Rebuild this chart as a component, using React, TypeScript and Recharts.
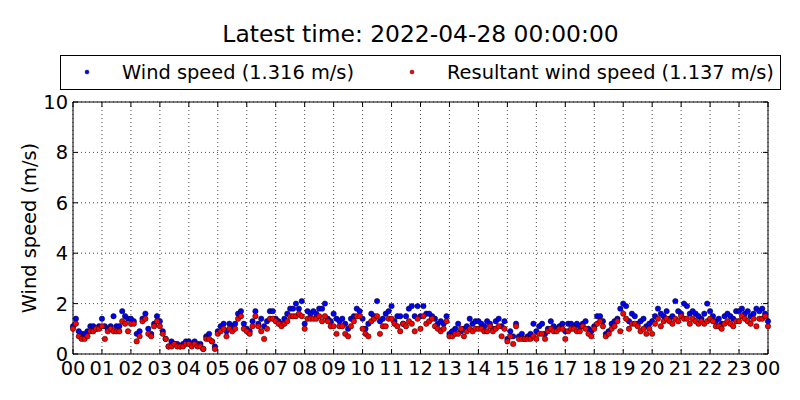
import { ScatterChart, Scatter, XAxis, YAxis, CartesianGrid, ReferenceArea } from "recharts";

// 6-minute samples, 00:00 .. 24:00
const STEP_MIN = 6;
const HOUR_TICKS = [0, 1, 2, 3, 4, 5, 6, 7, 8, 9, 10, 11, 12, 13, 14, 15, 16, 17, 18, 19, 20, 21, 22, 23, 24];
const SPEED_TICKS = [0, 2, 4, 6, 8, 10];

const TITLE = "Latest time: 2022-04-28 00:00:00";
const WS_LABEL = "Wind speed (1.316 m/s)";
const RS_LABEL = "Resultant wind speed (1.137 m/s)";

const WIND_SPEED = [
  1.1, 1.4, 0.9, 0.8, 0.8, 0.9, 1.1, 1.1, 1.0, 1.1,
  1.4, 1.1, 1.0, 1.1, 1.5, 1.1, 1.1, 1.7, 1.5, 1.4,
  1.4, 1.3, 0.8, 0.9, 1.4, 1.6, 1.0, 0.8, 1.2, 1.5,
  1.3, 0.9, 0.6, 0.3, 0.5, 0.4, 0.4, 0.3, 0.4, 0.5,
  0.5, 0.4, 0.5, 0.4, 0.4, 0.2, 0.7, 0.8, 0.5, 0.3,
  0.9, 1.1, 1.2, 0.9, 1.2, 1.1, 1.2, 1.6, 1.7, 1.2,
  1.0, 0.9, 1.3, 1.7, 1.2, 1.4, 1.1, 1.3, 1.7, 1.7,
  1.4, 1.3, 1.2, 1.4, 1.6, 1.8, 1.8, 2.0, 1.8, 2.1,
  1.2, 1.7, 1.6, 1.7, 1.6, 1.8, 1.8, 2.0, 1.4, 1.3,
  1.6, 1.4, 1.3, 1.4, 1.2, 1.0, 1.4, 1.5, 1.8, 1.7,
  1.4, 1.0, 1.2, 1.6, 1.5, 2.1, 1.3, 1.4, 1.6, 1.7,
  1.9, 1.3, 1.5, 1.5, 1.2, 1.5, 1.8, 1.9, 1.5, 1.9,
  1.5, 1.9, 1.6, 1.6, 1.5, 1.4, 1.2, 1.3, 1.2, 1.5,
  0.8, 0.9, 1.0, 1.2, 0.9, 1.0, 1.1, 1.4, 1.2, 1.3,
  1.3, 1.2, 1.1, 1.3, 1.2, 1.0, 1.3, 1.4, 1.1, 1.3,
  0.6, 0.9, 0.7, 1.2, 0.7, 0.8, 0.6, 0.7, 0.8, 1.2,
  0.9, 1.1, 1.2, 0.8, 1.0, 1.3, 1.1, 1.0, 1.1, 1.2,
  0.9, 1.2, 1.2, 1.1, 1.2, 1.1, 1.2, 1.3, 1.0, 0.9,
  1.1, 1.5, 1.5, 1.3, 0.8, 0.9, 1.2, 1.3, 1.4, 1.8,
  2.0, 1.9, 1.3, 1.6, 1.5, 1.2, 1.3, 1.4, 1.1, 1.2,
  1.3, 1.5, 1.8, 1.6, 1.5, 1.7, 1.4, 1.5, 2.1, 1.7,
  1.6, 2.0, 1.9, 1.6, 1.7, 1.6, 1.5, 1.4, 1.6, 2.0,
  1.7, 1.5, 1.3, 1.4, 1.2, 1.5, 1.6, 1.5, 1.4, 1.7,
  1.7, 1.8, 1.6, 1.7, 1.5, 1.6, 1.8, 1.7, 1.8, 1.6,
  1.3,
];

const RESULTANT_SPEED = [
  1.0, 1.2, 0.7, 0.6, 0.6, 0.7, 0.9, 0.9, 1.0, 1.0,
  1.1, 0.6, 0.9, 1.0, 0.9, 0.9, 0.9, 1.3, 1.2, 0.9,
  1.2, 1.2, 0.5, 0.7, 1.3, 1.4, 0.8, 0.7, 1.1, 1.3,
  1.1, 0.8, 0.6, 0.3, 0.3, 0.4, 0.3, 0.3, 0.3, 0.4,
  0.4, 0.3, 0.4, 0.3, 0.3, 0.2, 0.6, 0.6, 0.5, 0.2,
  0.8, 0.9, 1.0, 0.7, 1.0, 0.9, 1.0, 1.4, 1.5, 1.0,
  0.9, 0.8, 1.1, 1.5, 1.1, 0.9, 0.6, 1.0, 1.4, 1.4,
  1.3, 1.2, 1.1, 1.2, 1.3, 1.5, 1.5, 1.5, 1.6, 1.5,
  1.0, 1.4, 1.4, 1.4, 1.4, 1.5, 1.3, 1.5, 1.3, 1.1,
  1.1, 0.8, 1.1, 1.1, 0.8, 0.7, 1.1, 1.3, 1.5, 1.5,
  1.0, 0.8, 0.7, 1.3, 1.4, 1.5, 0.8, 1.1, 1.1, 1.4,
  1.4, 1.2, 1.1, 0.9, 1.2, 1.1, 1.3, 1.2, 0.9, 1.4,
  1.0, 1.5, 1.2, 1.3, 1.4, 1.1, 1.0, 0.9, 1.0, 1.3,
  0.7, 0.7, 0.8, 0.8, 1.0, 0.7, 0.9, 1.0, 0.9, 1.0,
  1.0, 1.0, 0.9, 0.9, 1.1, 0.9, 1.0, 1.1, 0.7, 1.0,
  0.5, 0.7, 0.4, 1.1, 0.6, 0.6, 0.6, 0.6, 0.6, 0.7,
  0.6, 0.8, 0.8, 0.6, 0.9, 1.0, 0.9, 0.9, 1.0, 1.0,
  0.6, 0.9, 1.0, 1.0, 0.9, 0.9, 1.1, 1.0, 0.8, 0.7,
  1.0, 1.2, 1.3, 1.1, 0.7, 0.8, 1.0, 1.1, 1.3, 0.9,
  1.6, 1.4, 1.0, 1.2, 1.2, 1.1, 0.9, 1.0, 0.8, 1.0,
  0.8, 1.2, 1.4, 1.1, 1.3, 1.4, 1.3, 1.2, 1.4, 1.3,
  1.5, 1.4, 1.4, 1.2, 1.4, 1.3, 1.2, 1.3, 1.2, 1.3,
  1.4, 1.3, 1.1, 1.1, 1.0, 1.2, 1.3, 1.2, 1.1, 1.3,
  1.3, 1.5, 1.4, 1.3, 1.2, 1.4, 1.1, 1.4, 1.4, 1.5,
  1.1,
];

const FONT = "'DejaVu Sans', sans-serif";
const FS = 19.4;
const PLOT_TOP = 102;
const PLOT_LEFT = 73;
const PLOT_RIGHT = 768;
const PLOT_BOTTOM = 354;
const TICK_LEN = 5;

const wsData = WIND_SPEED.map((v, i) => ({ t: (i * STEP_MIN) / 60, v }));
const rsData = RESULTANT_SPEED.map((v, i) => ({ t: (i * STEP_MIN) / 60, v }));

const fmtHour = (h: number) => String(h % 24).padStart(2, "0");

const XTick = (props: any) => {
  const { x, y, payload } = props;
  return (
    <g>
      <line x1={x} x2={x} y1={y} y2={y - TICK_LEN} stroke="#000" />
      <line x1={x} x2={x} y1={PLOT_TOP} y2={PLOT_TOP + TICK_LEN} stroke="#000" />
      <text x={x} y={y + 21} textAnchor="middle" fontSize={FS} fontFamily={FONT} fill="#000">
        {fmtHour(payload.value)}
      </text>
    </g>
  );
};

const YTick = (props: any) => {
  const { x, y, payload } = props;
  return (
    <g>
      <line x1={x} x2={x + TICK_LEN} y1={y} y2={y} stroke="#000" />
      <line x1={PLOT_RIGHT - TICK_LEN} x2={PLOT_RIGHT} y1={y} y2={y} stroke="#000" />
      <text x={x - 5} y={y} dy="0.36em" textAnchor="end" fontSize={FS} fontFamily={FONT} fill="#000">
        {payload.value}
      </text>
    </g>
  );
};

const dot = (fill: string) => (p: any) => (
  <circle cx={p.cx} cy={p.cy} r={2.7} fill={fill} stroke="#000" strokeWidth={0.5} />
);

const LegendItem = ({ color, label, left }: { color: string; label: string; left: number }) => (
  <div style={{ position: "absolute", left, top: 0, height: 32, display: "flex", alignItems: "center" }}>
    <svg width={8} height={8} style={{ marginRight: 31 }}>
      <circle cx={4} cy={4} r={2} fill={color} stroke="#000" strokeWidth={0.4} />
    </svg>
    <span style={{ fontSize: FS, fontFamily: FONT, color: "#000", whiteSpace: "nowrap" }}>{label}</span>
  </div>
);

export default function App() {
  return (
    <div style={{ position: "fixed", left: 0, top: 0, width: 800, height: 400, background: "#fff" }}>
      <div
        style={{
          position: "absolute",
          left: 0,
          width: PLOT_LEFT + PLOT_RIGHT,
          top: 21,
          textAlign: "center",
          fontSize: 23.4,
          lineHeight: "27px",
          fontFamily: FONT,
          color: "#000",
          whiteSpace: "nowrap",
        }}
      >
        {TITLE}
      </div>
      <div
        style={{
          position: "absolute",
          left: 60,
          top: 55,
          width: 719,
          height: 33,
          border: "1px solid #000",
          background: "#fff",
        }}
      >
        <LegendItem color="#0000ff" label={WS_LABEL} left={22} />
        <LegendItem color="#ff0000" label={RS_LABEL} left={347} />
      </div>
      <div
        style={{
          position: "absolute",
          left: 29,
          top: (PLOT_TOP + PLOT_BOTTOM) / 2,
          transform: "translate(-50%, -50%) rotate(-90deg)",
          fontSize: FS,
          fontFamily: FONT,
          whiteSpace: "nowrap",
        }}
      >
        Wind speed (m/s)
      </div>
      <div style={{ position: "absolute", left: 0, top: 0 }}>
        <ScatterChart
          width={800}
          height={400}
          margin={{ top: PLOT_TOP, right: 800 - PLOT_RIGHT, bottom: 400 - PLOT_BOTTOM - 30, left: PLOT_LEFT - 60 }}
        >
          <CartesianGrid stroke="#000" strokeWidth={0.7} strokeDasharray="1 3" />
          <XAxis
            type="number"
            dataKey="t"
            domain={[0, 24]}
            ticks={HOUR_TICKS}
            interval={0}
            height={30}
            axisLine={false}
            tickLine={false}
            tickSize={0}
            tickMargin={0}
            tick={<XTick />}
          />
          <YAxis
            type="number"
            dataKey="v"
            domain={[0, 10]}
            ticks={SPEED_TICKS}
            interval={0}
            width={60}
            axisLine={false}
            tickLine={false}
            tickSize={0}
            tickMargin={0}
            tick={<YTick />}
          />
          <Scatter data={wsData} shape={dot("#0000ff")} isAnimationActive={false} />
          <Scatter data={rsData} shape={dot("#ff0000")} isAnimationActive={false} />
          <ReferenceArea x1={0} x2={24} y1={0} y2={10} fill="none" stroke="#000" strokeWidth={1} fillOpacity={0} />
        </ScatterChart>
      </div>
    </div>
  );
}
